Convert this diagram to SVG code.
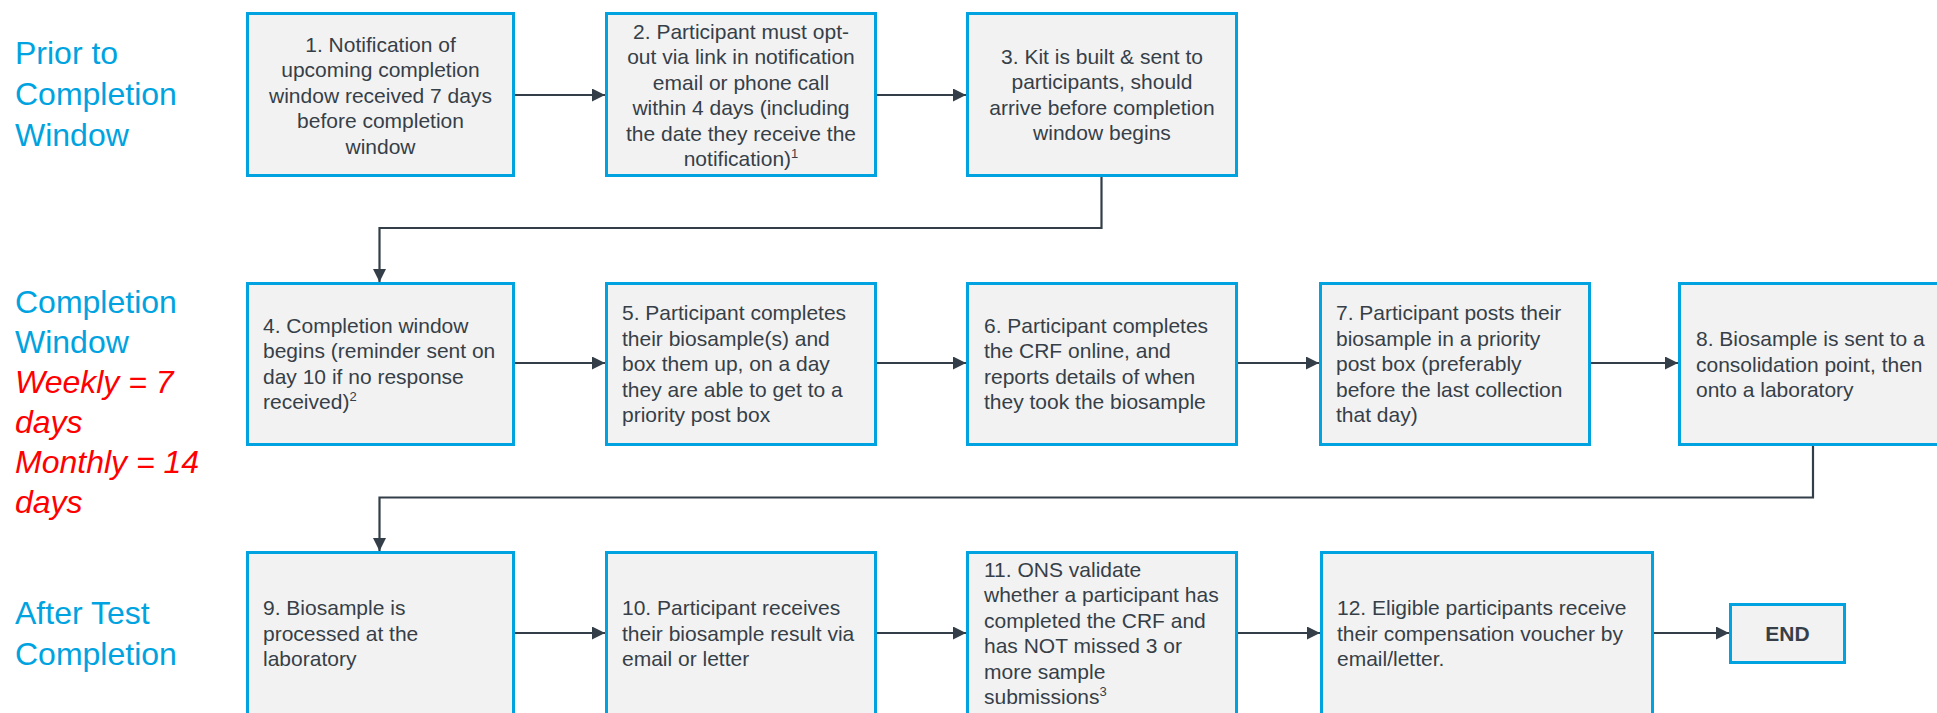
<svg xmlns="http://www.w3.org/2000/svg" width="1937" height="713" viewBox="0 0 1937 713">
<style>
.box{fill:#f2f2f2;stroke:#00a3e0;stroke-width:3}
.t{font-family:"Liberation Sans",Arial,sans-serif;font-size:21px;fill:#363f48}
.c{text-anchor:middle}
.lab{font-family:"Liberation Sans",Arial,sans-serif;font-size:32px;fill:#00a3e0}
.red{font-family:"Liberation Sans",Arial,sans-serif;font-size:32px;fill:#ff0000;font-style:italic}
.con{fill:none;stroke:#333e48;stroke-width:2.2}
.sup{font-size:13px}
</style>
<defs>
<marker id="ah" markerUnits="userSpaceOnUse" markerWidth="13" markerHeight="13" refX="13" refY="6.5" orient="auto">
<path d="M0,0 L13,6.5 L0,13 z" fill="#333e48"/>
</marker>
</defs>
<rect width="1937" height="713" fill="#ffffff"/>

<g id="labels">
<text class="lab" x="15" y="64">Prior to</text>
<text class="lab" x="15" y="105">Completion</text>
<text class="lab" x="15" y="146">Window</text>
<text class="lab" x="15" y="313">Completion</text>
<text class="lab" x="15" y="353">Window</text>
<text class="red" x="15" y="393">Weekly = 7</text>
<text class="red" x="15" y="433">days</text>
<text class="red" x="15" y="473">Monthly = 14</text>
<text class="red" x="15" y="513">days</text>
<text class="lab" x="15" y="624">After Test</text>
<text class="lab" x="15" y="665">Completion</text>
</g>

<g id="connectors">
<path class="con" d="M514,95 H605" marker-end="url(#ah)"/>
<path class="con" d="M876,95 H966" marker-end="url(#ah)"/>
<path class="con" d="M1101.5,177 V228 H379.5 V282" marker-end="url(#ah)"/>
<path class="con" d="M514,363 H605" marker-end="url(#ah)"/>
<path class="con" d="M876,363 H966" marker-end="url(#ah)"/>
<path class="con" d="M1237,363 H1319" marker-end="url(#ah)"/>
<path class="con" d="M1590,363 H1678" marker-end="url(#ah)"/>
<path class="con" d="M1813,446 V497.5 H379.5 V551" marker-end="url(#ah)"/>
<path class="con" d="M514,633 H605" marker-end="url(#ah)"/>
<path class="con" d="M876,633 H966" marker-end="url(#ah)"/>
<path class="con" d="M1237,633 H1320" marker-end="url(#ah)"/>
<path class="con" d="M1653,633 H1729" marker-end="url(#ah)"/>
</g>

<g id="n1">
<rect class="box" x="247.5" y="13.5" width="266" height="162"/>
<text class="t c"><tspan x="380.5" y="51.5">1. Notification of</tspan><tspan x="380.5" y="77">upcoming completion</tspan><tspan x="380.5" y="102.5">window received 7 days</tspan><tspan x="380.5" y="128">before completion</tspan><tspan x="380.5" y="153.5">window</tspan></text>
</g>
<g id="n2">
<rect class="box" x="606.5" y="13.5" width="269" height="162"/>
<text class="t c"><tspan x="741" y="38.5">2. Participant must opt-</tspan><tspan x="741" y="64">out via link in notification</tspan><tspan x="741" y="89.5">email or phone call</tspan><tspan x="741" y="115">within 4 days (including</tspan><tspan x="741" y="140.5">the date they receive the</tspan><tspan x="741" y="166">notification)<tspan class="sup" dy="-8">1</tspan></tspan></text>
</g>
<g id="n3">
<rect class="box" x="967.5" y="13.5" width="269" height="162"/>
<text class="t c"><tspan x="1102" y="63.5">3. Kit is built &amp; sent to</tspan><tspan x="1102" y="89">participants, should</tspan><tspan x="1102" y="114.5">arrive before completion</tspan><tspan x="1102" y="140">window begins</tspan></text>
</g>

<g id="n4">
<rect class="box" x="247.5" y="283.5" width="266" height="161"/>
<text class="t"><tspan x="263" y="332.5">4. Completion window</tspan><tspan x="263" y="358">begins (reminder sent on</tspan><tspan x="263" y="383.5">day 10 if no response</tspan><tspan x="263" y="409">received)<tspan class="sup" dy="-8">2</tspan></tspan></text>
</g>
<g id="n5">
<rect class="box" x="606.5" y="283.5" width="269" height="161"/>
<text class="t"><tspan x="622" y="320">5. Participant completes</tspan><tspan x="622" y="345.5">their biosample(s) and</tspan><tspan x="622" y="371">box them up, on a day</tspan><tspan x="622" y="396.5">they are able to get to a</tspan><tspan x="622" y="422">priority post box</tspan></text>
</g>
<g id="n6">
<rect class="box" x="967.5" y="283.5" width="269" height="161"/>
<text class="t"><tspan x="984" y="332.5">6. Participant completes</tspan><tspan x="984" y="358">the CRF online, and</tspan><tspan x="984" y="383.5">reports details of when</tspan><tspan x="984" y="409">they took the biosample</tspan></text>
</g>
<g id="n7">
<rect class="box" x="1320.5" y="283.5" width="269" height="161"/>
<text class="t"><tspan x="1336" y="320">7. Participant posts their</tspan><tspan x="1336" y="345.5">biosample in a priority</tspan><tspan x="1336" y="371">post box (preferably</tspan><tspan x="1336" y="396.5">before the last collection</tspan><tspan x="1336" y="422">that day)</tspan></text>
</g>
<g id="n8">
<rect class="box" x="1679.5" y="283.5" width="300" height="161"/>
<text class="t"><tspan x="1696" y="346">8. Biosample is sent to a</tspan><tspan x="1696" y="371.5">consolidation point, then</tspan><tspan x="1696" y="397">onto a laboratory</tspan></text>
</g>

<g id="n9">
<rect class="box" x="247.5" y="552.5" width="266" height="162"/>
<text class="t"><tspan x="263" y="615">9. Biosample is</tspan><tspan x="263" y="640.5">processed at the</tspan><tspan x="263" y="666">laboratory</tspan></text>
</g>
<g id="n10">
<rect class="box" x="606.5" y="552.5" width="269" height="162"/>
<text class="t"><tspan x="622" y="615">10. Participant receives</tspan><tspan x="622" y="640.5">their biosample result via</tspan><tspan x="622" y="666">email or letter</tspan></text>
</g>
<g id="n11">
<rect class="box" x="967.5" y="552.5" width="269" height="162"/>
<text class="t"><tspan x="984" y="576.5">11. ONS validate</tspan><tspan x="984" y="602">whether a participant has</tspan><tspan x="984" y="627.5">completed the CRF and</tspan><tspan x="984" y="653">has NOT missed 3 or</tspan><tspan x="984" y="678.5">more sample</tspan><tspan x="984" y="704">submissions<tspan class="sup" dy="-8">3</tspan></tspan></text>
</g>
<g id="n12">
<rect class="box" x="1321.5" y="552.5" width="331" height="162"/>
<text class="t"><tspan x="1337" y="615">12. Eligible participants receive</tspan><tspan x="1337" y="640.5">their compensation voucher by</tspan><tspan x="1337" y="666">email/letter.</tspan></text>
</g>
<g id="end">
<rect class="box" x="1730.5" y="604.5" width="114" height="58"/>
<text class="t c" x="1787.5" y="641" font-weight="bold">END</text>
</g>
</svg>
